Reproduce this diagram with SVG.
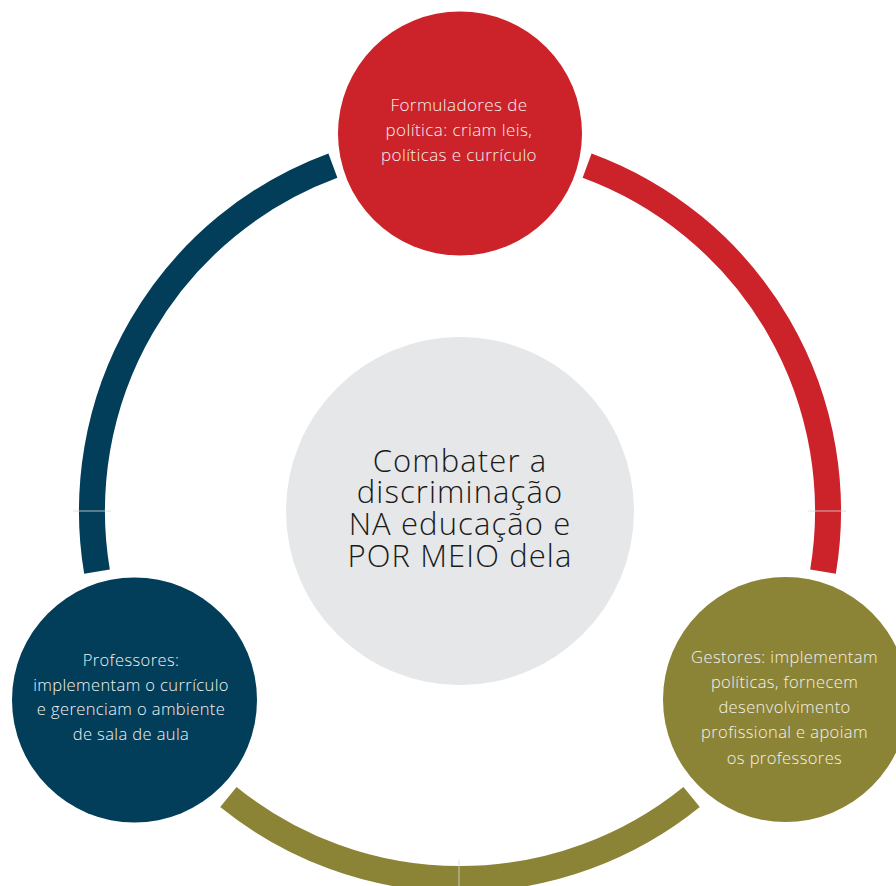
<svg xmlns="http://www.w3.org/2000/svg" width="896" height="886" viewBox="0 0 896 886">
<style>
.ring{fill:none;stroke-width:26;stroke-linecap:butt}
.tick{stroke:#d5d8db;stroke-width:1;opacity:0.8}
.lbl{font-family:"Open Sans",Lato,"Liberation Sans",sans-serif;font-weight:300;font-size:16.5px;letter-spacing:0.4px;fill:#f3f1ee;text-anchor:middle}
.red{font-size:17px}
.ctr{font-family:"Open Sans",Lato,"Liberation Sans",sans-serif;font-weight:300;font-size:31px;letter-spacing:1.1px;fill:#1a1a1a;text-anchor:middle}
</style>
<rect width="896" height="886" fill="#ffffff"/>
<g id="connectors">
<path class="ring" stroke="#023e59" d="M97,571.7 A368,368 0 0 1 332.9,165.6"/>
<path class="ring" stroke="#cc2229" d="M587.1,165.6 A368,368 0 0 1 823,571.7"/>
<path class="ring" stroke="#8b8436" d="M691.6,797 A368,368 0 0 1 228.4,797"/>
<line class="tick" x1="73" y1="511" x2="111" y2="511"/>
<line class="tick" x1="808" y1="511" x2="846" y2="511"/>
<line class="tick" x1="459" y1="860" x2="459" y2="886"/>
</g>
<g id="center">
<circle cx="460" cy="511" r="174" fill="#e6e7e8"/>
<text class="ctr"><tspan x="460" y="472">Combater a</tspan><tspan x="460" y="503">discriminação</tspan><tspan x="460" y="534.5">NA educação e</tspan><tspan x="460" y="566.5">POR MEIO dela</tspan></text>
</g>
<g id="policy">
<circle cx="460" cy="133.5" r="122" fill="#cc2229"/>
<text class="lbl red"><tspan x="459" y="111">Formuladores de</tspan><tspan x="459" y="136">política: criam leis,</tspan><tspan x="459" y="161">políticas e currículo</tspan></text>
</g>
<g id="teachers">
<circle cx="134.5" cy="700" r="122.5" fill="#023e59"/>
<text class="lbl"><tspan x="131" y="666">Professores:</tspan><tspan x="131" y="690.5">implementam o currículo</tspan><tspan x="131" y="715">e gerenciam o ambiente</tspan><tspan x="131" y="740">de sala de aula</tspan></text>
</g>
<g id="managers">
<circle cx="785.5" cy="699.5" r="122.5" fill="#8b8436"/>
<text class="lbl"><tspan x="784.5" y="663">Gestores: implementam</tspan><tspan x="784.5" y="688">políticas, fornecem</tspan><tspan x="784.5" y="713">desenvolvimento</tspan><tspan x="784.5" y="738">profissional e apoiam</tspan><tspan x="784.5" y="763.5">os professores</tspan></text>
</g>
</svg>
